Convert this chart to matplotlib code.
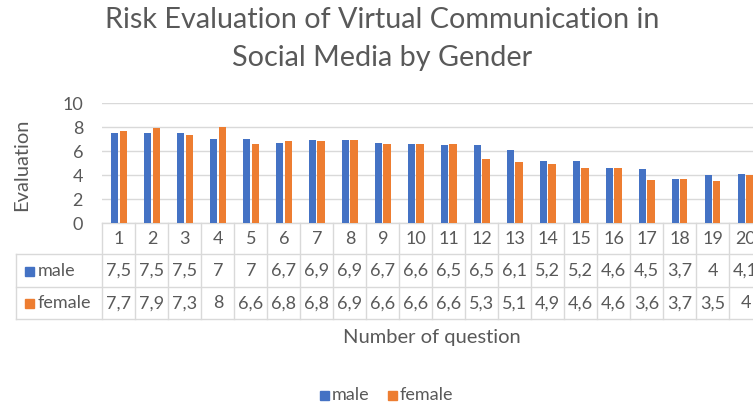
import matplotlib
matplotlib.use("Agg")
import matplotlib.pyplot as plt
import matplotlib.transforms as mtransforms
from matplotlib.lines import Line2D
import numpy as np

questions = [str(i) for i in range(1, 21)]
male = [7.5, 7.5, 7.5, 7, 7, 6.7, 6.9, 6.9, 6.7, 6.6, 6.5, 6.5, 6.1, 5.2, 5.2, 4.6, 4.5, 3.7, 4, 4.1]
female = [7.7, 7.9, 7.3, 8, 6.6, 6.8, 6.8, 6.9, 6.6, 6.6, 6.6, 5.3, 5.1, 4.9, 4.6, 4.6, 3.6, 3.7, 3.5, 4]
series_names = ["male", "female"]
colors = ["#4472C4", "#ED7D31"]
yticks = [0, 2, 4, 6, 8, 10]

W, H = 753, 407
TXT = "#595959"
GRID = "#D9D9D9"
FONT = "Lato"
plt.rcParams["font.family"] = [FONT, "DejaVu Sans"]

fig = plt.figure(figsize=(W / 100, H / 100), dpi=100)

def fy(py):
    return 1 - py / H

def fx(px):
    return px / W

left_px, right_px = 102.5, 762.0
top_px, bot_px = 103.0, 223.0
ax = fig.add_axes([fx(left_px), fy(bot_px), (right_px - left_px) / W, (bot_px - top_px) / H])

x = np.arange(len(questions))
bw = 0.22
ax.bar(x - 0.13, male, width=bw, color=colors[0], zorder=3)
ax.bar(x + 0.13, female, width=bw, color=colors[1], zorder=3)
ax.set_xlim(-0.5, len(questions) - 0.5)
ax.set_ylim(0, 10)
ax.set_yticks(yticks)
ax.set_yticklabels([str(t) for t in yticks], color=TXT, fontsize=13)
ax.tick_params(axis="y", length=0, pad=14)
ax.set_xticks([])
ax.grid(axis="y", color=GRID, linewidth=1, zorder=0)
for s in ["top", "right", "left"]:
    ax.spines[s].set_visible(False)
ax.spines["bottom"].set_color(GRID)
ax.spines["bottom"].set_linewidth(1)

# Data table below the axis
tr = mtransforms.blended_transform_factory(ax.transData, fig.transFigure)
row_y = [223, 254, 287, 319]

for py in row_y[1:]:
    fig.add_artist(Line2D([fx(16), 1.05], [fy(py), fy(py)], transform=fig.transFigure,
                          color=GRID, lw=1, clip_on=False))
fig.add_artist(Line2D([fx(16), fx(16)], [fy(row_y[1]), fy(row_y[3])], transform=fig.transFigure,
                      color=GRID, lw=1, clip_on=False))
for k in range(len(questions) + 1):
    xb = k - 0.5
    fig.add_artist(Line2D([xb, xb], [fy(row_y[0]), fy(row_y[3])], transform=tr, color=GRID, lw=1, clip_on=False))

def fmt(v):
    return ("%g" % v).replace(".", ",")

TS = 13
for i, q in enumerate(questions):
    fig.text(i, fy(239), q, transform=tr, ha="center", va="center", color=TXT, fontsize=TS)
    fig.text(i, fy(271), fmt(male[i]), transform=tr, ha="center", va="center", color=TXT, fontsize=TS)
    fig.text(i, fy(303.5), fmt(female[i]), transform=tr, ha="center", va="center", color=TXT, fontsize=TS)

for name, col, py in zip(series_names, colors, [271, 303.5]):
    fig.patches.append(plt.Rectangle((fx(25), fy(py + 4.5)), 9 / W, 9 / H, transform=fig.transFigure,
                                     color=col, figure=fig))
    fig.text(fx(37.5), fy(py), name, ha="left", va="center", color=TXT, fontsize=TS)

# Titles
fig.text(fx(382), fy(20), "Risk Evaluation of Virtual Communication in", ha="center", va="center",
         color=TXT, fontsize=20.7)
fig.text(fx(382), fy(58), "Social Media by Gender", ha="center", va="center", color=TXT, fontsize=20.7)
fig.text(fx(22), fy(165), "Evaluation", rotation=90, ha="center", va="center", color=TXT, fontsize=14.5)
fig.text(fx(432), fy(337), "Number of question", ha="center", va="center", color=TXT, fontsize=14.5)

# Legend
fig.patches.append(plt.Rectangle((fx(320), fy(399.5)), 9 / W, 9 / H, transform=fig.transFigure,
                                 color=colors[0], figure=fig))
fig.text(fx(332), fy(395), "male", ha="left", va="center", color=TXT, fontsize=TS)
fig.patches.append(plt.Rectangle((fx(388), fy(399.5)), 9 / W, 9 / H, transform=fig.transFigure,
                                 color=colors[1], figure=fig))
fig.text(fx(400), fy(395), "female", ha="left", va="center", color=TXT, fontsize=TS)

fig.savefig("out.png", dpi=100)
